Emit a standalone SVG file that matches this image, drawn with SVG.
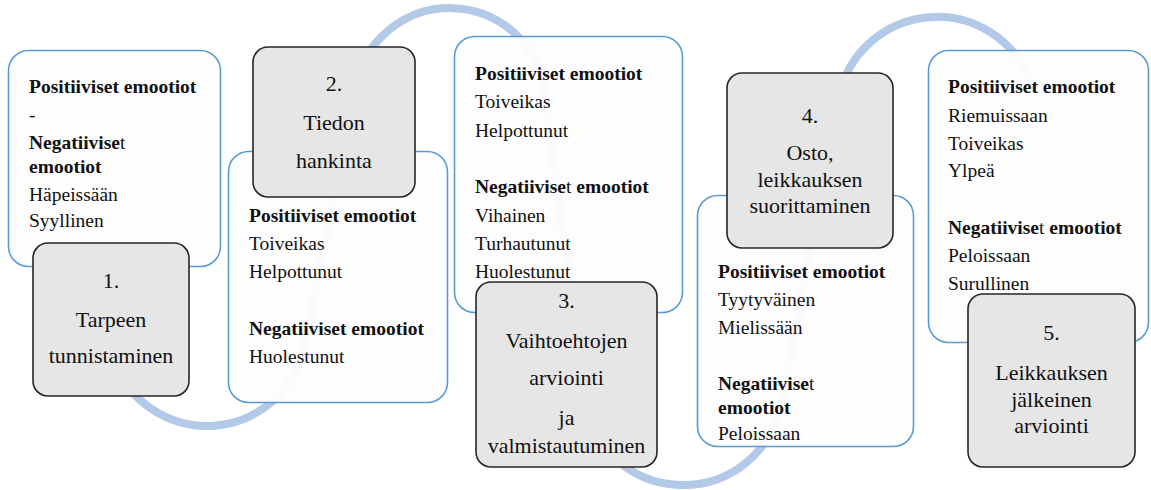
<svg xmlns="http://www.w3.org/2000/svg" width="1151" height="490" viewBox="0 0 1151 490">
<style>
.bg{fill:#ffffff}
.wave{fill:none;stroke:#b3c9e8;stroke-width:8;stroke-linecap:butt}
.card{fill:#fdfdfe;fill-opacity:0.94;stroke:#5b9bd5;stroke-width:1.6}
.step{fill:#e6e6e6;stroke:#262626;stroke-width:1.6}
text{fill:#111111}
.t{font-size:19.5px}
.b{font-weight:bold}
.n{font-weight:normal}
.s{font-size:22px;text-anchor:middle}
</style>
<rect class="bg" x="0" y="0" width="1151" height="490"/>
<g id="connectors">
<path class="wave" d="M114,360.9 A99,99 0 0 0 304.1,346.2 L355.8,85.4 A96,96 0 0 1 545.2,92 L583.8,397.5 A100,100 0 0 0 781.3,403.6 L838.7,98.4 A100,100 0 0 1 1031,82.8"/>
</g>
<g font-family="Liberation Serif, DejaVu Serif, serif">
<g id="card1">
<rect class="card" x="8.5" y="50.5" width="212" height="216" rx="20"/>
<text class="t" x="29"><tspan class="b" x="29" y="93">Positiiviset emootiot</tspan><tspan x="29" y="121">-</tspan><tspan class="b" x="29" y="149">Negatiivise</tspan><tspan class="n">t</tspan><tspan class="b" x="29" y="173">emootiot</tspan><tspan x="29" y="201">Häpeissään</tspan><tspan x="29" y="227">Syyllinen</tspan></text>
</g>
<g id="step1">
<rect class="step" x="33" y="243" width="156" height="153" rx="15"/>
<text class="s"><tspan x="111" y="288">1.</tspan><tspan x="111" y="327">Tarpeen</tspan><tspan x="111" y="363">tunnistaminen</tspan></text>
</g>
<g id="card2">
<rect class="card" x="228.5" y="151.5" width="219" height="251" rx="20"/>
<text class="t"><tspan class="b" x="249" y="222">Positiiviset emootiot</tspan><tspan x="249" y="250">Toiveikas</tspan><tspan x="249" y="278">Helpottunut</tspan><tspan class="b" x="249" y="335">Negatiiviset emootiot</tspan><tspan x="249" y="363">Huolestunut</tspan></text>
</g>
<g id="step2">
<rect class="step" x="253" y="47" width="162" height="150" rx="15"/>
<text class="s"><tspan x="334" y="91">2.</tspan><tspan x="334" y="130">Tiedon</tspan><tspan x="334" y="168">hankinta</tspan></text>
</g>
<g id="card3">
<rect class="card" x="454.5" y="36.5" width="228" height="276" rx="20"/>
<text class="t"><tspan class="b" x="475" y="80">Positiiviset emootiot</tspan><tspan x="475" y="108">Toiveikas</tspan><tspan x="475" y="137">Helpottunut</tspan><tspan class="b" x="475" y="193">Negatiivise</tspan><tspan class="n">t </tspan><tspan class="b">emootiot</tspan><tspan x="475" y="222">Vihainen</tspan><tspan x="475" y="250">Turhautunut</tspan><tspan x="475" y="278">Huolestunut</tspan></text>
</g>
<g id="step3">
<rect class="step" x="476" y="282" width="181" height="185" rx="15"/>
<text class="s"><tspan x="566.5" y="308">3.</tspan><tspan x="566.5" y="348">Vaihtoehtojen</tspan><tspan x="566.5" y="385">arviointi</tspan><tspan x="566.5" y="425">ja</tspan><tspan x="566.5" y="453">valmistautuminen</tspan></text>
</g>
<g id="card4">
<rect class="card" x="697.5" y="195.5" width="216" height="251" rx="20"/>
<text class="t"><tspan class="b" x="718" y="278">Positiiviset emootiot</tspan><tspan x="718" y="306">Tyytyväinen</tspan><tspan x="718" y="334">Mielissään</tspan><tspan class="b" x="718" y="390">Negatiivise</tspan><tspan class="n">t</tspan><tspan class="b" x="718" y="414">emootiot</tspan><tspan x="718" y="440">Peloissaan</tspan></text>
</g>
<g id="step4">
<rect class="step" x="727" y="73" width="166" height="175" rx="15"/>
<text class="s"><tspan x="810" y="123">4.</tspan><tspan x="810" y="160">Osto,</tspan><tspan x="810" y="187">leikkauksen</tspan><tspan x="810" y="213">suorittaminen</tspan></text>
</g>
<g id="card5">
<rect class="card" x="928.5" y="50.5" width="220" height="292" rx="20"/>
<text class="t"><tspan class="b" x="948" y="93">Positiiviset emootiot</tspan><tspan x="948" y="122">Riemuissaan</tspan><tspan x="948" y="150">Toiveikas</tspan><tspan x="948" y="177">Ylpeä</tspan><tspan class="b" x="948" y="234">Negatiivise</tspan><tspan class="n">t </tspan><tspan class="b">emootiot</tspan><tspan x="948" y="262">Peloissaan</tspan><tspan x="948" y="290">Surullinen</tspan></text>
</g>
<g id="step5">
<rect class="step" x="968" y="294" width="167" height="173" rx="15"/>
<text class="s"><tspan x="1051.5" y="340">5.</tspan><tspan x="1051.5" y="380">Leikkauksen</tspan><tspan x="1051.5" y="407">jälkeinen</tspan><tspan x="1051.5" y="433">arviointi</tspan></text>
</g>
</g>
</svg>
